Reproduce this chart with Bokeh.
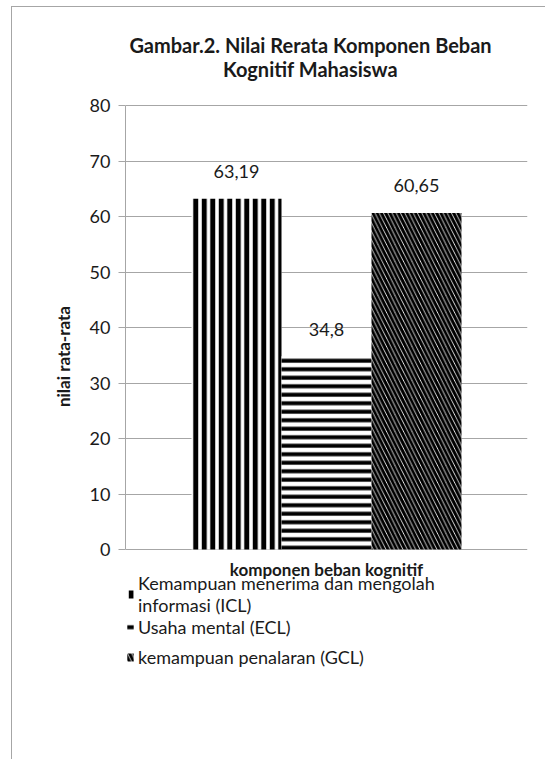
from bokeh.plotting import figure
from bokeh.models import (ColumnDataSource, FactorRange, Range1d, LabelSet, Legend,
                          LegendItem, Label, FixedTicker)
from bokeh.core.properties import value
from bokeh.embed import file_html
from bokeh.resources import INLINE

# ---- data ----
series = ["ICL", "ECL", "GCL"]
values = [63.19, 34.8, 60.65]
value_labels = ["63,19", "34,8", "60,65"]
legend_labels = ["Kemampuan menerima dan mengolah\ninformasi (ICL)",
                 "Usaha mental (ECL)",
                 "kemampuan penalaran (GCL)"]
y_ticks = [0, 10, 20, 30, 40, 50, 60, 70, 80]
title_lines = ["Gambar.2. Nilai Rerata Komponen Beban", "Kognitif Mahasiswa"]
x_title = "komponen beban kognitif"
y_title = "nilai  rata-rata"

# ---- styles / layout (pixels) ----
FONT = "Lato"
GRID = "#a6a6a6"
TXT = "#1a1a1a"
FW = 402                 # frame width
AXIS_H = 444             # height of the 0..80 value axis
ABOVE, BELOW = 76, 130   # frame room above 80 (title) and below 0 (legend)
PAD = 0.489
hatch_styles = [
    dict(hatch_pattern="vertical_line", hatch_scale=8.5, hatch_weight=5),
    dict(hatch_pattern="horizontal_line", hatch_scale=8.5, hatch_weight=4),
    dict(hatch_pattern="left_diagonal_line", hatch_scale=8.5, hatch_weight=3.1),
]

ppu = AXIS_H / (y_ticks[-1] - y_ticks[0])          # px per value unit
y_lo = y_ticks[0] - BELOW / ppu
y_hi = y_ticks[-1] + ABOVE / ppu

xr = FactorRange(factors=series, range_padding=PAD)
yr = Range1d(y_lo, y_hi)
p = figure(x_range=xr, y_range=yr, frame_width=FW, frame_height=AXIS_H + ABOVE + BELOW,
           output_backend="svg", toolbar_location=None, title=None,
           x_axis_location=None,
           min_border_left=113, min_border_right=18, min_border_top=22,
           min_border_bottom=80)
p.styles = {"margin-left": "11px", "margin-top": "6px",
            "border-left": "1px solid #a6a6a6", "border-top": "1px solid #a6a6a6"}
p.outline_line_color = None
p.background_fill_color = "white"
p.border_fill_color = "white"

renderers = []
for i in range(len(series)):
    src = ColumnDataSource(dict(x=[series[i]], top=[values[i]]))
    r = p.vbar(x="x", top="top", width=1.0, source=src, fill_color="white",
               line_color=None, hatch_color="black", **hatch_styles[i])
    renderers.append(r)

lab_src = ColumnDataSource(dict(x=series, y=values, t=value_labels))
p.add_layout(LabelSet(x="x", y="y", text="t", source=lab_src, y_offset=27,
                      text_align="center", text_baseline="middle",
                      text_font=value(FONT), text_font_size="18px",
                      text_color=TXT))

# value axis (line and ticks only over 0..80); grid line at 0 is the category axis line
p.xgrid.grid_line_color = None
p.ygrid.grid_line_color = GRID
p.ygrid.ticker = FixedTicker(ticks=y_ticks)

p.yaxis.ticker = FixedTicker(ticks=y_ticks)
p.yaxis.bounds = (y_ticks[0], y_ticks[-1])
p.yaxis.axis_line_color = GRID
p.yaxis.major_tick_line_color = GRID
p.yaxis.major_tick_out = 7
p.yaxis.major_tick_in = 0
p.yaxis.minor_tick_line_color = None
p.yaxis.major_label_standoff = 8
p.yaxis.major_label_text_font = FONT
p.yaxis.major_label_text_font_size = "18px"
p.yaxis.major_label_text_color = TXT
p.yaxis.axis_label = y_title
p.yaxis.axis_label_text_font = FONT
p.yaxis.axis_label_text_font_style = "bold"
p.yaxis.axis_label_text_font_size = "17px"
p.yaxis.axis_label_text_color = TXT
p.yaxis.axis_label_standoff = 13

# synthetic x coordinates of the categorical range
n = len(series)
x_start = -n * PAD / 2
x_span = n * (1 + PAD)
x_mid = x_start + x_span / 2
px_to_x = x_span / FW

# category-axis title
p.add_layout(Label(x=x_mid, y=y_ticks[0] - 20 / ppu, text=x_title,
                   text_align="center", text_baseline="middle", text_font=FONT,
                   text_font_style="bold", text_font_size="17px", text_color=TXT))

# chart title, two centred lines
for k, line in enumerate(title_lines):
    p.add_layout(Label(x=x_mid - 16 * px_to_x, y=y_ticks[-1] + (61 - 24 * k) / ppu,
                       text=line, text_align="center", text_baseline="middle",
                       text_font=FONT, text_font_style="bold",
                       text_font_size="20px", text_color=TXT))

# legends below the category axis
leg_common = dict(orientation="vertical", padding=0, margin=0, glyph_width=8,
                  glyph_height=10, label_standoff=4, label_height=18,
                  label_text_font=FONT, label_text_font_size="18px",
                  label_text_line_height=1.0, label_text_color=TXT,
                  border_line_color=None, background_fill_alpha=0)
leg1 = Legend(items=[LegendItem(label=legend_labels[0], renderers=[renderers[0]]),
                     LegendItem(label=legend_labels[1], renderers=[renderers[1]])],
              location=(1, 41), spacing=0, **leg_common)
leg2 = Legend(items=[LegendItem(label=legend_labels[2], renderers=[renderers[2]])],
              location=(1, 11), spacing=0, **leg_common)
p.add_layout(leg1, "center")
p.add_layout(leg2, "center")

open("out.html", "w").write(file_html(p, INLINE))
